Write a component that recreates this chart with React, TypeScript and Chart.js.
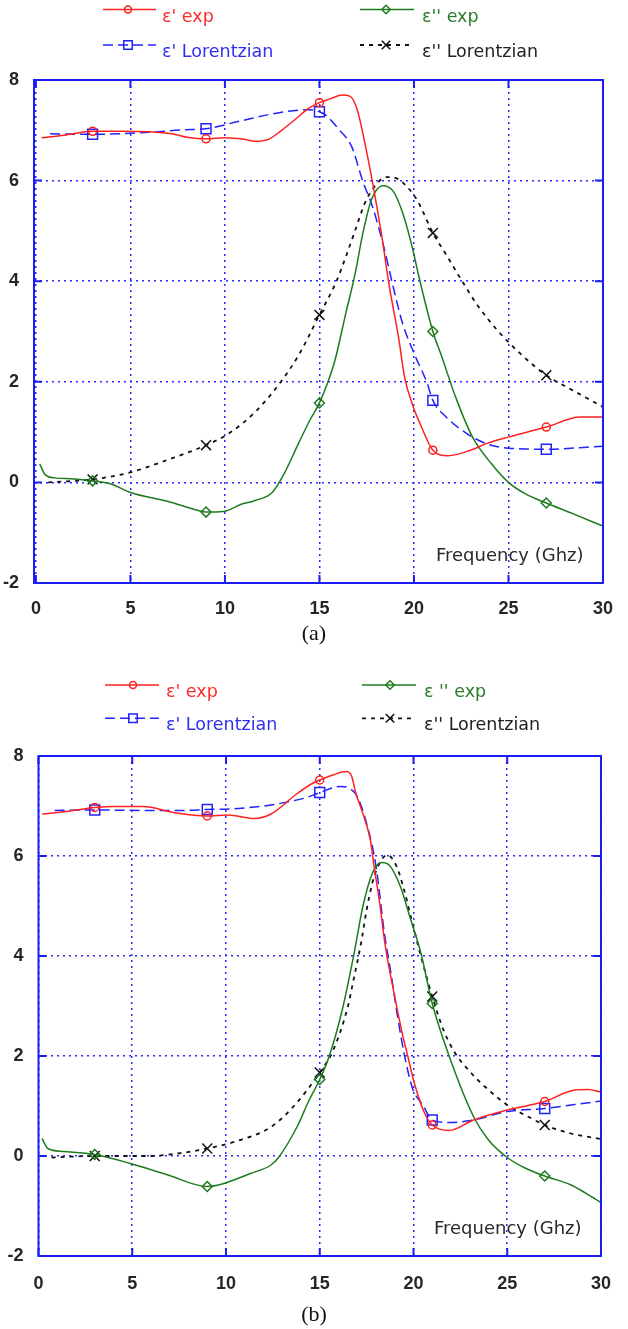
import React, { useEffect, useRef } from 'react';
import { Chart, registerables } from 'chart.js';

Chart.register(...registerables);

// ---------- axis ticks, labels ----------
const X_TICKS = [0, 5, 10, 15, 20, 25, 30];
const Y_TICKS = [-2, 0, 2, 4, 6, 8];
const MARKER_X = [3, 9, 15, 21, 27];
const X_AXIS_TITLE = 'Frequency (Ghz)';
const CAPTIONS = ['(a)', '(b)'];
const LABELS_A = ["ε' exp", "ε'' exp", "ε' Lorentzian", "ε'' Lorentzian"];
const LABELS_B = ["ε' exp", "ε '' exp", "ε' Lorentzian", "ε'' Lorentzian"];

// ---------- panel (a) ----------
const A_EPS1_EXP_X = [0.3, 1.5, 3, 4.5, 6, 7.2, 8, 9, 10, 11, 11.6, 12.3, 13, 13.7, 14.4, 15, 15.6, 16.2, 16.6, 17, 17.4, 17.85, 18.3, 18.7, 19.2, 19.5, 19.9, 20.4, 21, 21.8, 23, 23.9, 25, 27, 28.8, 30];
const A_EPS1_EXP_Y = [6.85, 6.9, 6.98, 6.98, 6.97, 6.93, 6.86, 6.83, 6.85, 6.82, 6.78, 6.82, 7.0, 7.21, 7.43, 7.55, 7.63, 7.7, 7.68, 7.41, 6.75, 5.88, 4.89, 3.89, 2.85, 2.1, 1.57, 1.1, 0.64, 0.53, 0.64, 0.78, 0.9, 1.1, 1.3, 1.3];

const A_EPS2_EXP_X = [0.2, 0.5, 1, 2, 3, 3.9, 5, 7, 8.5, 9, 9.9, 10.9, 11.6, 12.5, 13.1, 13.9, 14.5, 15, 15.8, 16.4, 16.9, 17.3, 17.75, 18.35, 18.9, 19.4, 19.9, 20.3, 21, 21.5, 22.2, 23.1, 24.1, 25, 25.9, 27, 28.4, 30];
const A_EPS2_EXP_Y = [0.37, 0.15, 0.09, 0.07, 0.03, -0.02, -0.2, -0.38, -0.55, -0.59, -0.58, -0.43, -0.36, -0.2, 0.15, 0.78, 1.24, 1.58, 2.4, 3.37, 4.17, 4.96, 5.62, 5.9, 5.79, 5.36, 4.69, 4.03, 3.0, 2.47, 1.7, 0.9, 0.37, 0.0, -0.23, -0.41, -0.62, -0.87];

const A_EPS1_LOR_X = [0.75, 3, 6, 7.8, 9, 10.75, 13, 14.4, 15, 15.4, 16, 16.7, 17.3, 17.8, 18.4, 18.9, 19.4, 20, 20.7, 21, 21.7, 22.8, 23.9, 25, 27, 30];
const A_EPS1_LOR_Y = [6.93, 6.92, 6.96, 7.01, 7.03, 7.18, 7.36, 7.41, 7.37, 7.28, 7.03, 6.68, 5.98, 5.49, 4.69, 3.89, 3.16, 2.57, 1.97, 1.63, 1.3, 0.97, 0.76, 0.68, 0.66, 0.72];

const A_EPS2_LOR_X = [0.65, 3, 5, 6.9, 9, 10.2, 11.6, 12.9, 13.9, 15, 15.9, 16.4, 16.9, 17.4, 17.85, 18.55, 19.05, 19.7, 20.2, 21, 21.65, 22.5, 23.4, 24.4, 25.8, 27, 28.4, 30];
const A_EPS2_LOR_Y = [0.0, 0.06, 0.2, 0.44, 0.74, 0.97, 1.4, 1.97, 2.53, 3.33, 4.0, 4.49, 5.02, 5.55, 5.85, 6.07, 6.05, 5.85, 5.59, 4.96, 4.56, 4.03, 3.5, 3.03, 2.5, 2.13, 1.83, 1.5];

// ---------- panel (b) ----------
const B_EPS1_EXP_X = [0.2, 1.5, 3, 4.1, 5.6, 7.2, 9, 10.1, 11.5, 12.4, 13.8, 14.6, 15, 15.7, 16.4, 16.7, 16.9, 17.3, 17.7, 17.9, 18.2, 18.5, 19, 19.4, 19.7, 20.05, 20.6, 21, 21.9, 23.2, 25, 27, 28.6, 29.3, 30];
const B_EPS1_EXP_Y = [6.84, 6.89, 6.97, 6.99, 6.99, 6.87, 6.8, 6.82, 6.75, 6.84, 7.25, 7.45, 7.52, 7.62, 7.69, 7.6, 7.29, 6.85, 6.32, 5.79, 5.05, 4.19, 3.19, 2.45, 1.99, 1.45, 0.85, 0.62, 0.51, 0.72, 0.92, 1.09, 1.32, 1.33, 1.28];

const B_EPS2_EXP_X = [0.19, 0.5, 1.3, 3, 4.9, 6.9, 9, 9.6, 11.3, 12.4, 12.8, 13.8, 14.4, 15, 15.5, 16.2, 16.8, 17.3, 17.8, 18.3, 18.7, 19.3, 19.8, 20.4, 21, 21.9, 23.2, 24, 25, 26, 27, 28.4, 30];
const B_EPS2_EXP_Y = [0.35, 0.15, 0.09, 0.03, -0.15, -0.38, -0.61, -0.58, -0.35, -0.18, -0.03, 0.59, 1.09, 1.53, 1.99, 2.92, 3.99, 4.99, 5.65, 5.87, 5.82, 5.39, 4.79, 4.05, 3.05, 2.0, 0.79, 0.32, -0.03, -0.25, -0.4, -0.58, -0.93];

const B_EPS1_LOR_X = [0.86, 3, 5.8, 7.7, 9, 10.65, 12.4, 13.4, 14.3, 15, 16.1, 16.6, 17, 17.5, 18, 18.45, 18.8, 19.15, 19.5, 19.95, 20.5, 21, 21.9, 23.2, 25, 27, 28.6, 30];
const B_EPS1_LOR_Y = [6.91, 6.92, 6.91, 6.91, 6.93, 6.95, 7.02, 7.09, 7.17, 7.27, 7.39, 7.35, 7.19, 6.65, 5.8, 4.45, 3.65, 2.79, 2.05, 1.35, 1.02, 0.72, 0.67, 0.72, 0.89, 0.95, 1.03, 1.1];

const B_EPS2_LOR_X = [0.7, 3, 5.9, 7.8, 9, 10.5, 12.35, 13.6, 15, 15.7, 16.5, 16.8, 17.2, 17.5, 17.8, 18.1, 18.6, 19.1, 19.5, 19.9, 20.4, 21, 21.6, 22.2, 23.1, 23.8, 25, 26.3, 27, 28.4, 30];
const B_EPS2_LOR_Y = [-0.03, 0.0, 0.0, 0.07, 0.15, 0.29, 0.57, 0.99, 1.67, 2.1, 2.99, 3.52, 4.25, 4.92, 5.45, 5.79, 6.02, 5.79, 5.32, 4.72, 3.99, 3.19, 2.52, 2.07, 1.65, 1.39, 1.02, 0.75, 0.62, 0.45, 0.34];

// ---------- styles ----------
const FRAME_COLOR = '#1c1cf5';
const GRID_COLOR = '#2a2aff';
const SERIES_STYLE = [
  { color: '#ff2020', text: '#ff2a2a', dash: [] as number[], point: 'circle', r: 4, lw: 1.5 },
  { color: '#1e7b1e', text: '#2a7d2a', dash: [] as number[], point: 'rectRot', r: 5, lw: 1.5 },
  { color: '#2222ff', text: '#3030f0', dash: [10, 5], point: 'rect', r: 7, lw: 1.5 },
  { color: '#111111', text: '#222222', dash: [4, 5], point: 'crossRot', r: 7, lw: 1.8 },
];

const TICK_FONT = { family: '"Liberation Sans", Arial, sans-serif', size: 18, weight: 'bold' as const };
const LEGEND_FONT = '17.5px "DejaVu Sans", sans-serif';
const TITLE_FONT = '18px "DejaVu Sans", sans-serif';

function drawMarker(ctx: CanvasRenderingContext2D, style: string, x: number, y: number, r: number) {
  ctx.beginPath();
  if (style === 'circle') {
    ctx.arc(x, y, r, 0, Math.PI * 2);
  } else if (style === 'rectRot') {
    const s = r * Math.SQRT1_2;
    ctx.moveTo(x - s, y); ctx.lineTo(x, y + s); ctx.lineTo(x + s, y); ctx.lineTo(x, y - s); ctx.closePath();
  } else if (style === 'rect') {
    const s = r * Math.SQRT1_2;
    ctx.rect(x - s, y - s, 2 * s, 2 * s);
  } else {
    const s = r * Math.SQRT1_2;
    ctx.moveTo(x - s, y - s); ctx.lineTo(x + s, y + s);
    ctx.moveTo(x - s, y + s); ctx.lineTo(x + s, y - s);
  }
  ctx.stroke();
}

const decorPlugin = {
  id: 'decor',
  afterDatasetsDraw(chart: any, _args: any, opts: any) {
    const ctx: CanvasRenderingContext2D = chart.ctx;
    const { left, right, top, bottom } = chart.chartArea;
    const xs = chart.scales.x;
    const ys = chart.scales.y;
    ctx.save();
    ctx.setLineDash([]);
    ctx.strokeStyle = FRAME_COLOR;
    ctx.lineWidth = 2;
    ctx.strokeRect(left, top, right - left, bottom - top);
    const TL = 8;
    ctx.beginPath();
    X_TICKS.forEach((v) => {
      const p = xs.getPixelForValue(v);
      ctx.moveTo(p, bottom); ctx.lineTo(p, bottom - TL);
      ctx.moveTo(p, top); ctx.lineTo(p, top + TL);
    });
    Y_TICKS.forEach((v) => {
      const p = ys.getPixelForValue(v);
      ctx.moveTo(left, p); ctx.lineTo(left + TL, p);
      ctx.moveTo(right, p); ctx.lineTo(right - TL, p);
    });
    ctx.stroke();
    ctx.font = TITLE_FONT;
    ctx.fillStyle = '#2a2a2a';
    ctx.textAlign = 'left';
    ctx.textBaseline = 'alphabetic';
    ctx.fillText(X_AXIS_TITLE, opts.titleX, opts.titleY);
    ctx.restore();
  },
  afterDraw(chart: any, _args: any, opts: any) {
    const ctx: CanvasRenderingContext2D = chart.ctx;
    ctx.save();
    chart.data.datasets.forEach((ds: any, i: number) => {
      const st = SERIES_STYLE[i];
      const col = opts.legendCols[i % 2];
      const y = opts.legendRows[Math.floor(i / 2)];
      ctx.strokeStyle = st.color;
      ctx.lineWidth = st.lw;
      ctx.setLineDash(st.dash);
      ctx.beginPath();
      ctx.moveTo(col.x0, y);
      ctx.lineTo(col.x1, y);
      ctx.stroke();
      ctx.setLineDash([]);
      ctx.lineWidth = 1.5;
      drawMarker(ctx, st.point, col.mx, y, st.point === 'circle' ? 3.5 : 6);
      ctx.font = LEGEND_FONT;
      ctx.fillStyle = st.text;
      ctx.textAlign = 'left';
      ctx.textBaseline = 'alphabetic';
      ctx.fillText(ds.label, col.tx, y + 12);
    });
    ctx.restore();
  },
};

type Layout = {
  top: number; height: number; padTop: number; padRight: number;
  yAxisWidth: number; xAxisHeight: number; xMin: number; xLabelPad: number; yLabelPad: number;
  legendRows: number[]; legendCols: { x0: number; x1: number; mx: number; tx: number }[];
  titleX: number; titleY: number;
};

const LAYOUT_A: Layout = {
  top: 0, height: 625, padTop: 80, padRight: 12, yAxisWidth: 34, xAxisHeight: 42, xMin: -0.1,
  xLabelPad: 15, yLabelPad: 15,
  legendRows: [9.5, 45],
  legendCols: [{ x0: 103, x1: 156, mx: 128, tx: 162 }, { x0: 360, x1: 414, mx: 386, tx: 422 }],
  titleX: 436, titleY: 561,
};

const LAYOUT_B: Layout = {
  top: 650, height: 650, padTop: 106, padRight: 12.5, yAxisWidth: 38.5, xAxisHeight: 44, xMin: 0,
  xLabelPad: 17, yLabelPad: 15,
  legendRows: [35, 68.3],
  legendCols: [{ x0: 105, x1: 159, mx: 133, tx: 166 }, { x0: 362, x1: 416, mx: 390, tx: 424 }],
  titleX: 434, titleY: 584,
};

function buildDatasets(xs: number[][], ys: number[][], labels: string[]) {
  return xs.map((xArr, i) => {
    const st = SERIES_STYLE[i];
    return {
      label: labels[i],
      data: xArr.map((x, j) => ({ x, y: ys[i][j] })),
      borderColor: st.color,
      borderWidth: st.lw,
      borderDash: st.dash,
      pointStyle: st.point,
      pointRadius: (c: any) => (c.raw && MARKER_X.includes(c.raw.x) ? st.r : 0),
      pointHoverRadius: 0,
      pointBorderColor: st.color,
      pointBackgroundColor: 'rgba(0,0,0,0)',
      pointBorderWidth: 1.5,
      cubicInterpolationMode: 'monotone' as const,
      fill: false,
    };
  });
}

function Panel({ layout, xs, ys, labels }: { layout: Layout; xs: number[][]; ys: number[][]; labels: string[] }) {
  const ref = useRef<HTMLCanvasElement>(null);
  useEffect(() => {
    if (!ref.current) return;
    const chart = new Chart(ref.current, {
      type: 'line',
      data: { datasets: buildDatasets(xs, ys, labels) as any },
      plugins: [decorPlugin as any],
      options: {
        responsive: false,
        maintainAspectRatio: false,
        animation: false,
        events: [],
        layout: { padding: { left: 0, right: layout.padRight, top: layout.padTop, bottom: 0 }, autoPadding: false } as any,
        plugins: {
          legend: { display: false },
          tooltip: { enabled: false },
          decor: {
            legendRows: layout.legendRows,
            legendCols: layout.legendCols,
            titleX: layout.titleX,
            titleY: layout.titleY,
          },
        } as any,
        scales: {
          x: {
            type: 'linear',
            min: layout.xMin,
            max: 30,
            afterBuildTicks: (s: any) => { s.ticks = X_TICKS.map((v) => ({ value: v })); },
            afterFit: (s: any) => { s.height = layout.xAxisHeight; },
            grid: { color: GRID_COLOR, lineWidth: 1.5, drawTicks: false },
            border: { display: false, dash: [2, 4] },
            ticks: { color: '#262626', font: TICK_FONT, padding: layout.xLabelPad, maxRotation: 0, autoSkip: false },
          },
          y: {
            type: 'linear',
            min: -2,
            max: 8,
            afterBuildTicks: (s: any) => { s.ticks = Y_TICKS.map((v) => ({ value: v })); },
            afterFit: (s: any) => { s.width = layout.yAxisWidth; },
            grid: { color: GRID_COLOR, lineWidth: 1.5, drawTicks: false },
            border: { display: false, dash: [2, 4] },
            ticks: { color: '#262626', font: TICK_FONT, padding: layout.yLabelPad, autoSkip: false },
          },
        } as any,
      },
    });
    return () => chart.destroy();
  }, []);
  return (
    <canvas
      ref={ref}
      width={628}
      height={layout.height}
      style={{ position: 'absolute', left: 0, top: layout.top, width: 628, height: layout.height }}
    />
  );
}

const captionStyle = (centerY: number): React.CSSProperties => ({
  position: 'absolute', left: 0, width: 628, top: centerY - 13, height: 26, lineHeight: '26px',
  textAlign: 'center', fontFamily: '"Liberation Serif", "Times New Roman", serif', fontSize: 22, color: '#111',
});

export default function App() {
  return (
    <div style={{ position: 'absolute', left: 0, top: 0, width: 628, height: 1329, background: '#fff', overflow: 'hidden' }}>
      <Panel
        layout={LAYOUT_A}
        xs={[A_EPS1_EXP_X, A_EPS2_EXP_X, A_EPS1_LOR_X, A_EPS2_LOR_X]}
        ys={[A_EPS1_EXP_Y, A_EPS2_EXP_Y, A_EPS1_LOR_Y, A_EPS2_LOR_Y]}
        labels={LABELS_A}
      />
      <div style={captionStyle(633)}>{CAPTIONS[0]}</div>
      <Panel
        layout={LAYOUT_B}
        xs={[B_EPS1_EXP_X, B_EPS2_EXP_X, B_EPS1_LOR_X, B_EPS2_LOR_X]}
        ys={[B_EPS1_EXP_Y, B_EPS2_EXP_Y, B_EPS1_LOR_Y, B_EPS2_LOR_Y]}
        labels={LABELS_B}
      />
      <div style={captionStyle(1314)}>{CAPTIONS[1]}</div>
    </div>
  );
}
